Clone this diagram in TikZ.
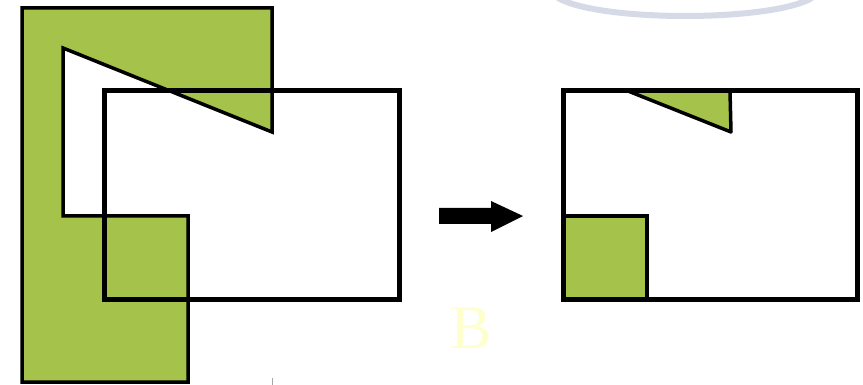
\documentclass[tikz,border=0pt]{standalone}
\usepackage{fontspec}
\setmainfont{Liberation Serif}
\usepackage{tikz}
\definecolor{leafgreen}{HTML}{A5C24A}
\definecolor{faintblue}{HTML}{D6DAE7}
\definecolor{paleyellow}{HTML}{FFFFCC}

\begin{document}
\begin{tikzpicture}[
    x=1pt, y=-1pt,
    region/.style={draw=black, line width=3.5pt, fill=leafgreen, line join=miter},
    clipbox/.style={draw=black, line width=5pt},
    bigarrow/.style={fill=black}
]
\useasboundingbox (0,0) rectangle (863,385);

% --- Hintergrund ---
\draw[faintblue, line width=6pt] (558,-2) .. controls (600,22) and (770,22) .. (812,-2);
\draw[gray!70, line width=0.8pt] (272,378) -- (272,385);
\node[text=paleyellow, font=\fontsize{62}{62}\selectfont] (letter) at (471,328) {B};

% --- Links: Polygon und Rechteck ---
\draw[region] (22,8) -- (272,8) -- (272,132) -- (63,48) -- (63,216)
    -- (188,216) -- (188,382) -- (22,382) -- cycle;
\draw[clipbox] (104,91) rectangle (399,299);

% --- Pfeil ---
\fill[bigarrow] (439,208) -- (491,208) -- (491,201) -- (523,216)
    -- (491,232) -- (491,224) -- (439,224) -- cycle;

% --- Rechts: Ergebnis ---
\fill[leafgreen] (628,91) -- (730,91) -- (731,132) -- cycle;
\draw[black, line width=3.5pt, line join=round] (628,91) -- (731,132) -- (730,91);
\draw[region] (563,216) rectangle (647,299);
\draw[clipbox] (563,91) rectangle (857,299);

\end{tikzpicture}
\end{document}
